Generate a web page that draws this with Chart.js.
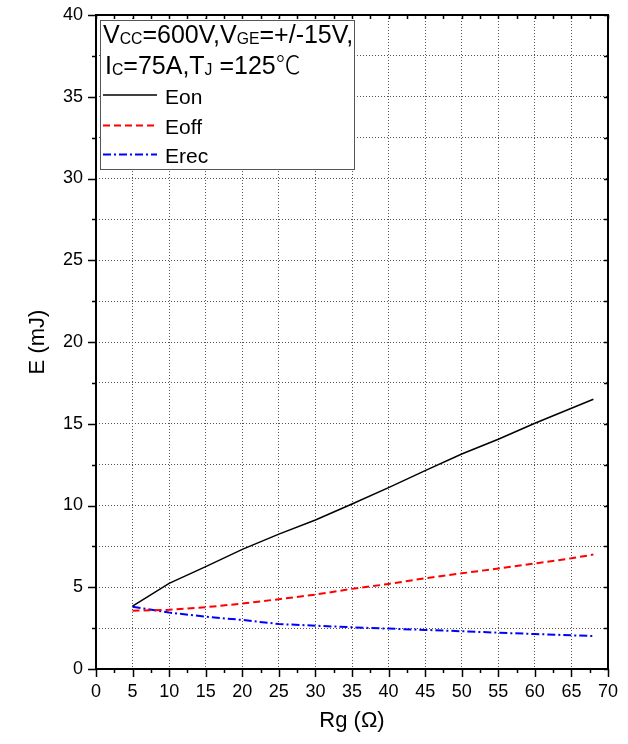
<!DOCTYPE html>
<html><head><meta charset="utf-8">
<script src="https://cdn.jsdelivr.net/npm/chart.js@4.4.1/dist/chart.umd.min.js"></script>
<style>html,body{margin:0;padding:0;background:#fff}#wrap{width:628px;height:744px;position:relative}</style>
</head><body><div id="wrap"><canvas id="c"></canvas></div>
<script>
// ---- data ----
const rg   = [5, 10, 15, 20, 25, 30, 35, 40, 45, 50, 55, 60, 65, 68];
const eon  = [3.85, 5.24, 6.26, 7.32, 8.25, 9.11, 10.09, 11.09, 12.13, 13.15, 14.05, 15.03, 15.95, 16.5];
const eoff = [3.57, 3.62, 3.78, 4.00, 4.27, 4.55, 4.90, 5.20, 5.55, 5.85, 6.15, 6.45, 6.77, 7.00];
const erec = [3.81, 3.45, 3.20, 3.00, 2.75, 2.65, 2.55, 2.47, 2.39, 2.31, 2.22, 2.14, 2.06, 2.02];
const xTickLabels = ['0','5','10','15','20','25','30','35','40','45','50','55','60','65','70'];
const yTickLabels = ['0','5','10','15','20','25','30','35','40'];
const seriesNames = ['Eon', 'Eoff', 'Erec'];

const FONT = '"Liberation Sans", Arial, "Noto Sans CJK SC", sans-serif';
const CJK = '"Noto Sans CJK SC", "Liberation Sans", sans-serif';
const pts = arr => rg.map((x, i) => ({x, y: arr[i]}));

const framePlugin = {
  id: 'frame',
  afterDraw(chart) {
    const {ctx, chartArea: a, scales: {x, y}} = chart;
    ctx.save();
    ctx.strokeStyle = '#000';
    ctx.lineWidth = 1.5;
    ctx.beginPath();
    x.ticks.forEach(t => {
      const px = Math.round(x.getPixelForValue(t.value)) + 0.5;
      const major = Math.abs(t.value % 5) < 1e-6;
      ctx.moveTo(px, a.bottom); ctx.lineTo(px, a.bottom + (major ? 8 : 4));
      ctx.moveTo(px, a.top); ctx.lineTo(px, a.top + 4);
    });
    y.ticks.forEach(t => {
      const py = Math.round(y.getPixelForValue(t.value)) + 0.5;
      const major = Math.abs(t.value % 5) < 1e-6;
      ctx.moveTo(a.left, py); ctx.lineTo(a.left - (major ? 8 : 4), py);
      ctx.moveTo(a.right, py); ctx.lineTo(a.right - 4, py);
    });
    ctx.stroke();
    ctx.lineWidth = 2;
    ctx.strokeRect(a.left, a.top, a.right - a.left, a.bottom - a.top);

    // legend box
    const bx = a.left + 4, by = a.top + 5, bw = 254, bh = 149;
    ctx.fillStyle = '#fff';
    ctx.fillRect(bx, by, bw, bh);
    ctx.lineWidth = 1;
    ctx.strokeStyle = '#555';
    ctx.strokeRect(bx + 0.5, by + 0.5, bw, bh);

    const runs = (x0, yb, size, parts) => {
      let cx = x0;
      ctx.fillStyle = '#000';
      ctx.textBaseline = 'alphabetic';
      ctx.textAlign = 'left';
      parts.forEach(p => {
        const sub = p[1] === 1;
        const s = sub ? size * 0.63 : size;
        ctx.font = (p[1] === 2 ? '300 ' : '') + s + 'px ' + (p[1] === 2 ? CJK : FONT);
        ctx.fillText(p[0], cx, yb + (sub ? 1 : 0));
        cx += ctx.measureText(p[0]).width;
      });
    };
    runs(bx + 3, by + 23, 25, [['V'], ['CC', 1], ['=600V,V'], ['GE', 1], ['=+/-15V,']]);
    runs(bx + 5, by + 54, 25, [['I'], ['C', 1], ['=75A,T'], ['J', 1], [' =125'], ['\u2103', 2]]);

    const ds = chart.data.datasets;
    const rows = [[by + 75, by + 84], [by + 105.5, by + 113.5], [by + 134.5, by + 143]];
    ds.forEach((d, i) => {
      ctx.save();
      ctx.strokeStyle = d.borderColor;
      ctx.lineWidth = d.borderWidth;
      ctx.setLineDash(d.borderDash || []);
      ctx.beginPath();
      ctx.moveTo(bx + 3, rows[i][0]); ctx.lineTo(bx + 57, rows[i][0]);
      ctx.stroke();
      ctx.restore();
      runs(bx + 65, rows[i][1], 21, [[d.label]]);
    });
    ctx.restore();
  }
};

const isMajor = v => Math.abs(v % 5) < 1e-6;

new Chart(document.getElementById('c'), {
  type: 'line',
  data: {
    datasets: [
      {label: seriesNames[0], data: pts(eon),  borderColor: '#000000', borderWidth: 1.5, borderDash: []},
      {label: seriesNames[1], data: pts(eoff), borderColor: '#ff0000', borderWidth: 2, borderDash: [7, 4]},
      {label: seriesNames[2], data: pts(erec), borderColor: '#0000ff', borderWidth: 2, borderDash: [8, 3, 2, 3]}
    ]
  },
  options: {
    responsive: true,
    maintainAspectRatio: false,
    animation: false,
    devicePixelRatio: 1,
    layout: {padding: {left: 0, top: 15, right: 20, bottom: 0}},
    elements: {point: {radius: 0}, line: {tension: 0, fill: false}},
    plugins: {legend: {display: false}, tooltip: {enabled: false}},
    scales: {
      x: {
        type: 'linear', min: 0, max: 70,
        afterFit(s) { s.height = 75; s.paddingLeft = 0; s.paddingRight = 0; },
        ticks: {
          stepSize: 2.5, autoSkip: false, maxRotation: 0, padding: 12,
          color: '#000', font: {family: FONT, size: 18},
          callback: v => isMajor(v) ? xTickLabels[Math.round(v / 5)] : ''
        },
        grid: {
          drawTicks: false, lineWidth: 1,
          color: c => (c.tick && isMajor(c.tick.value) && c.tick.value > 0 && c.tick.value < 70) ? '#555' : 'rgba(0,0,0,0)'
        },
        border: {display: false, dash: [1, 2]},
        title: {display: true, text: 'Rg (\u03A9)', color: '#000', font: {family: FONT, size: 22}, padding: {top: 0, bottom: 10}}
      },
      y: {
        type: 'linear', min: 0, max: 40,
        afterFit(s) { s.width = 96; s.paddingTop = 0; s.paddingBottom = 0; },
        ticks: {
          stepSize: 2.5, autoSkip: false, padding: 13,
          color: '#000', font: {family: FONT, size: 18},
          callback: v => isMajor(v) ? yTickLabels[Math.round(v / 5)] : ''
        },
        grid: {
          drawTicks: false, lineWidth: 1,
          color: c => (c.tick && c.tick.value > 0 && c.tick.value < 40) ? '#555' : 'rgba(0,0,0,0)'
        },
        border: {display: false, dash: [1, 2]},
        title: {display: true, text: 'E (mJ)', color: '#000', font: {family: FONT, size: 22}, padding: {top: 25, bottom: 0}}
      }
    }
  },
  plugins: [framePlugin]
});
</script></body></html>
